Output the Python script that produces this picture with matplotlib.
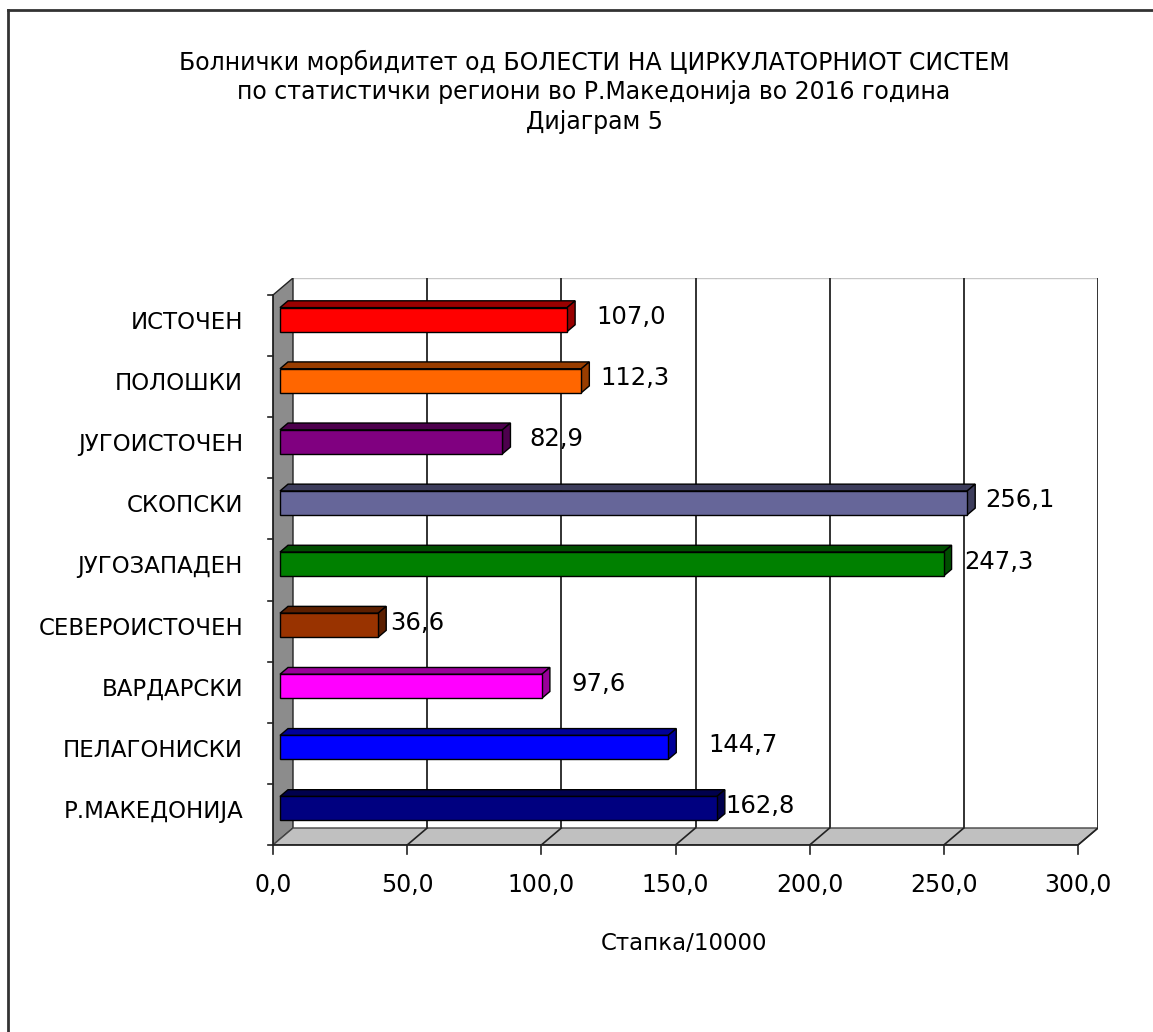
import matplotlib
matplotlib.use("Agg")
import matplotlib.pyplot as plt
from matplotlib.patches import Polygon
from matplotlib.lines import Line2D
from matplotlib.colors import to_rgb

plt.rcParams['font.family'] = ['DejaVu Sans']

# data
regions = ['ИСТОЧЕН', 'ПОЛОШКИ', 'ЈУГОИСТОЧЕН', 'СКОПСКИ', 'ЈУГОЗАПАДЕН',
           'СЕВЕРОИСТОЧЕН', 'ВАРДАРСКИ', 'ПЕЛАГОНИСКИ', 'Р.МАКЕДОНИЈА']
values = [107.0, 112.3, 82.9, 256.1, 247.3, 36.6, 97.6, 144.7, 162.8]
colors = ['#FF0000', '#FF6600', '#800080', '#666699', '#008000',
          '#993300', '#FF00FF', '#0000FF', '#000080']
xticks = [0, 50, 100, 150, 200, 250, 300]
title_lines = ['Болнички морбидитет од БОЛЕСТИ НА ЦИРКУЛАТОРНИОТ СИСТЕМ',
               'по статистички региони во Р.Македонија во 2016 година',
               'Дијаграм 5']
xlabel = 'Стапка/10000'

# label shifts in pixels (excel put them a bit all over the place)
label_gap = [29, 19, 27, 18, 21, 12, 30, 40, 8]

W, H = 1153, 1032
fig = plt.figure(figsize=(W / 100, H / 100), dpi=100)

# pixel geometry of the pseudo 3d box
x0, x1 = 273, 1078      # front plane, value 0 and 300
yb, yt = 845, 295       # front plane bottom / top
ddx, ddy = 20, 17       # depth offset
ppx = (x1 - x0) / 300.0
ppy = (yb - yt) / 9.0
dx = ddx / ppx
dy = ddy / ppy

ax = fig.add_axes([x0 / W, 1 - yb / H, (x1 + ddx - x0) / W, (yb - yt + ddy) / H])
ax.set_xlim(0, 300 + dx)
ax.set_ylim(-0.5, 8.5 + dy)
ax.axis('off')

n = len(regions)
ypos = [n - 1 - i for i in range(n)]
xmax = xticks[-1]

# back wall + gridlines
ax.add_patch(Polygon([(dx, -0.5 + dy), (xmax + dx, -0.5 + dy), (xmax + dx, 8.5 + dy), (dx, 8.5 + dy)],
                     closed=True, fc='white', ec='none', zorder=0))
ax.plot([dx, xmax + dx], [8.5 + dy, 8.5 + dy], color='#c8c8c8', lw=1, zorder=1)
for v in xticks[1:]:
    ax.plot([v + dx, v + dx], [-0.5 + dy, 8.5 + dy], color='#222222', lw=1.3, zorder=1)

# left wall
ax.add_patch(Polygon([(0, -0.5), (dx, -0.5 + dy), (dx, 8.5 + dy), (0, 8.5)],
                     closed=True, fc='#8c8c8c', ec='#222222', lw=1, zorder=2))
# floor
ax.add_patch(Polygon([(0, -0.5), (xmax, -0.5), (xmax + dx, -0.5 + dy), (dx, -0.5 + dy)],
                     closed=True, fc='#c0c0c0', ec='#444444', lw=1, zorder=2))
for v in xticks[1:]:
    ax.plot([v, v + dx], [-0.5, -0.5 + dy], color='#222222', lw=1.2, zorder=3)

# front axis lines and ticks
ax.plot([0, xmax], [-0.5, -0.5], color='#222222', lw=1.3, zorder=3, clip_on=False)
ax.plot([0, 0], [-0.5, 8.5], color='#222222', lw=1.3, zorder=3, clip_on=False)
for v in xticks:
    ax.plot([v, v], [-0.5, -0.5 - 9 / ppy], color='#222222', lw=1.2, clip_on=False, zorder=3)
    ax.annotate(f'{v:.1f}'.replace('.', ','), xy=(v, -0.5), xytext=(0, -40),
                textcoords='offset pixels', ha='center', va='center', fontsize=17)
for k in range(n + 1):
    ax.plot([0, -5 / ppx], [k - 0.5, k - 0.5], color='#222222', lw=1.2, clip_on=False, zorder=3)

# bars
f0, f1 = 0.35, 0.75
bh = 24 / ppy
for y, v, c, name, gap in zip(ypos, values, colors, regions, label_gap):
    dark = tuple(ch * 0.6 for ch in to_rgb(c))
    bx = f0 * dx
    by = y + f0 * dy - bh / 2
    ex, ey = (f1 - f0) * dx, (f1 - f0) * dy
    ax.add_patch(Polygon([(bx, by + bh), (bx + v, by + bh), (bx + v + ex, by + bh + ey), (bx + ex, by + bh + ey)],
                         closed=True, fc=dark, ec='black', lw=1, zorder=5))
    ax.add_patch(Polygon([(bx + v, by), (bx + v + ex, by + ey), (bx + v + ex, by + bh + ey), (bx + v, by + bh)],
                         closed=True, fc=dark, ec='black', lw=1, zorder=5))
    ax.barh(y + f0 * dy, v, height=bh, left=bx, color=c, edgecolor='black', lw=1, zorder=6)
    ax.annotate(f'{v:.1f}'.replace('.', ','), xy=(bx + v, y + 0.5 * dy), xytext=(gap, 0),
                textcoords='offset pixels', ha='left', va='center', fontsize=17.5)
    ax.annotate(name, xy=(0, y + 0.05), xytext=(-30, 0), textcoords='offset pixels',
                ha='right', va='center', fontsize=16.5)

for line, ty in zip(title_lines, [62, 92, 122]):
    fig.text(594 / W, 1 - ty / H, line, ha='center', va='center', fontsize=17)
fig.text(684 / W, 1 - 944 / H, xlabel, ha='center', va='center', fontsize=16.5)

# frame: only left and top edges visible
fig.add_artist(Line2D([8 / W, 8 / W], [0, 1 - 10 / H], color='#333333', lw=2))
fig.add_artist(Line2D([8 / W, 1], [1 - 10 / H, 1 - 10 / H], color='#333333', lw=2))

fig.savefig('out.png', dpi=100, facecolor='white')
